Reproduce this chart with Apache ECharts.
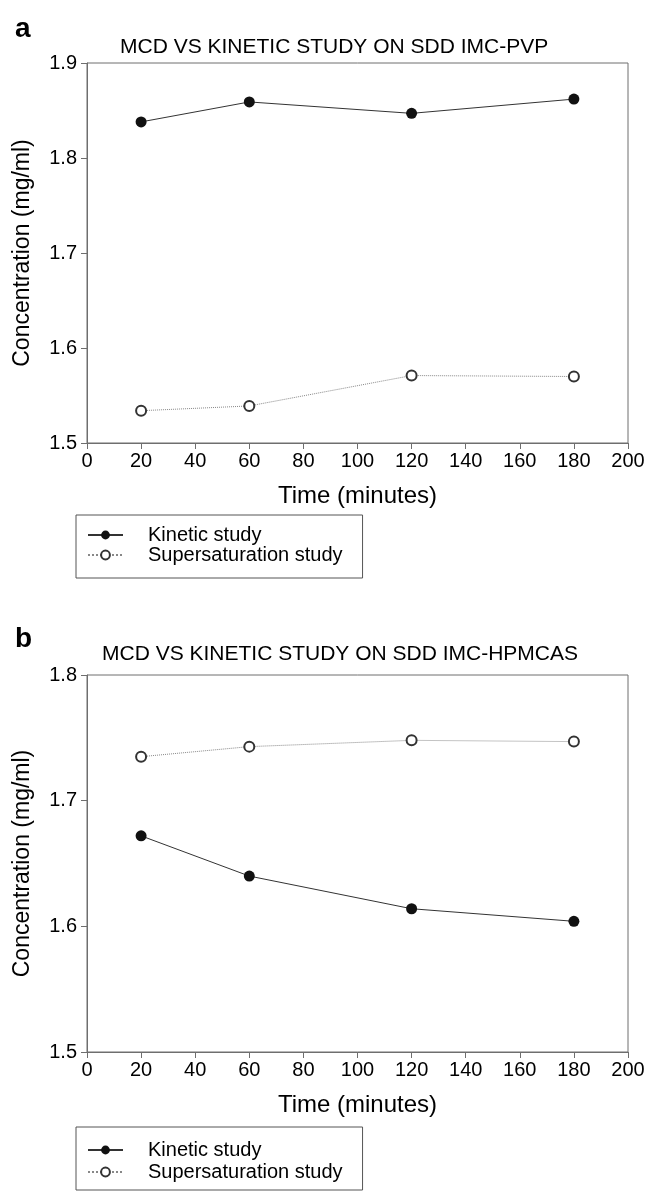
<!DOCTYPE html>
<html>
<head>
<meta charset="utf-8">
<script src="https://cdn.jsdelivr.net/npm/echarts@6/dist/echarts.min.js"></script>
<style>
html,body{margin:0;padding:0;background:#fff;}
#main{width:649px;height:1195px;}
</style>
</head>
<body>
<div id="main"></div>
<script>
// ---- data ----
const timePoints = [20, 60, 120, 180];
const kineticA = [1.838, 1.859, 1.847, 1.862];
const supersatA = [1.534, 1.539, 1.571, 1.570];
const kineticB = [1.672, 1.640, 1.614, 1.604];
const supersatB = [1.735, 1.743, 1.748, 1.747];
const seriesNames = ['Kinetic study', 'Supersaturation study'];
const titleA = 'MCD VS KINETIC STUDY ON SDD IMC-PVP';
const titleB = 'MCD VS KINETIC STUDY ON SDD IMC-HPMCAS';
const xName = 'Time (minutes)';
const yName = 'Concentration (mg/ml)';

const FONT = '"Liberation Sans", Arial, sans-serif';
const AXIS_COLOR = '#6e6e6e';

function pairs(ys) { return timePoints.map((t, i) => [t, ys[i]]); }

function xAxisFor(gridIndex) {
  return {
    gridIndex, type: 'value', min: 0, max: 200, interval: 20,
    name: xName, nameLocation: 'middle', nameGap: 41,
    nameTextStyle: { fontFamily: FONT, fontSize: 24, color: '#000' },
    axisLine: { show: true, onZero: false, lineStyle: { color: AXIS_COLOR, width: 1 } },
    axisTick: { show: true, length: 6, lineStyle: { color: AXIS_COLOR } },
    axisLabel: { fontFamily: FONT, fontSize: 20, color: '#000', margin: 8 },
    splitLine: { show: false }
  };
}
function yAxisFor(gridIndex, min, max) {
  return {
    gridIndex, type: 'value', min, max, interval: 0.1,
    name: yName, nameLocation: 'middle', nameGap: 53, nameRotate: 90,
    nameTextStyle: { fontFamily: FONT, fontSize: 23, color: '#000' },
    axisLine: { show: true, lineStyle: { color: AXIS_COLOR, width: 1 } },
    axisTick: { show: true, length: 6, lineStyle: { color: AXIS_COLOR } },
    axisLabel: { fontFamily: FONT, fontSize: 20, color: '#000', margin: 10,
      formatter: v => v.toFixed(1) },
    splitLine: { show: false }
  };
}
function kineticSeries(idx, ys) {
  return {
    name: seriesNames[0], type: 'line', xAxisIndex: idx, yAxisIndex: idx,
    data: pairs(ys), symbol: 'circle', symbolSize: 11,
    itemStyle: { color: '#111' },
    lineStyle: { color: '#333', width: 1 }
  };
}
function supersatSeries(idx, ys) {
  return {
    name: seriesNames[1], type: 'line', xAxisIndex: idx, yAxisIndex: idx,
    data: pairs(ys), symbol: 'emptyCircle', symbolSize: 10,
    itemStyle: { color: '#333', borderWidth: 1 },
    lineStyle: { color: '#888', width: 1, type: 'dotted' }
  };
}
function legendFor(top, pad, gap) {
  return {
    data: seriesNames, orient: 'vertical', left: 76, top,
    padding: pad, itemGap: gap, itemWidth: 35, itemHeight: 11,
    borderColor: '#555', borderWidth: 1, selectedMode: false,
    textStyle: { fontFamily: FONT, fontSize: 20, color: '#000', lineHeight: 20,
      padding: [0, 0, 0, 20] }
  };
}

const chart = echarts.init(document.getElementById('main'), null, { renderer: 'canvas' });
chart.setOption({
  animation: false,
  backgroundColor: '#fff',
  title: [
    { text: 'a', left: 10, top: 10, textStyle: { fontFamily: FONT, fontSize: 28, fontWeight: 'bold', color: '#000' } },
    { text: titleA, left: 115, top: 32, textStyle: { fontFamily: FONT, fontSize: 21, fontWeight: 'normal', color: '#000' } },
    { text: 'b', left: 10, top: 620, textStyle: { fontFamily: FONT, fontSize: 28, fontWeight: 'bold', color: '#000' } },
    { text: titleB, left: 97, top: 639, textStyle: { fontFamily: FONT, fontSize: 21, fontWeight: 'normal', color: '#000' } }
  ],
  grid: [
    { left: 87, top: 63, width: 541, height: 380, show: true, borderColor: AXIS_COLOR, borderWidth: 1, backgroundColor: 'transparent' },
    { left: 87, top: 675, width: 541, height: 377, show: true, borderColor: AXIS_COLOR, borderWidth: 1, backgroundColor: 'transparent' }
  ],
  xAxis: [xAxisFor(0), xAxisFor(1)],
  yAxis: [yAxisFor(0, 1.5, 1.9), yAxisFor(1, 1.5, 1.8)],
  legend: [legendFor(515, [10, 20, 13, 11], 0), legendFor(1127, [13, 20, 8, 11], 2)],
  series: [
    kineticSeries(0, kineticA), supersatSeries(0, supersatA),
    kineticSeries(1, kineticB), supersatSeries(1, supersatB)
  ]
});
</script>
</body>
</html>
